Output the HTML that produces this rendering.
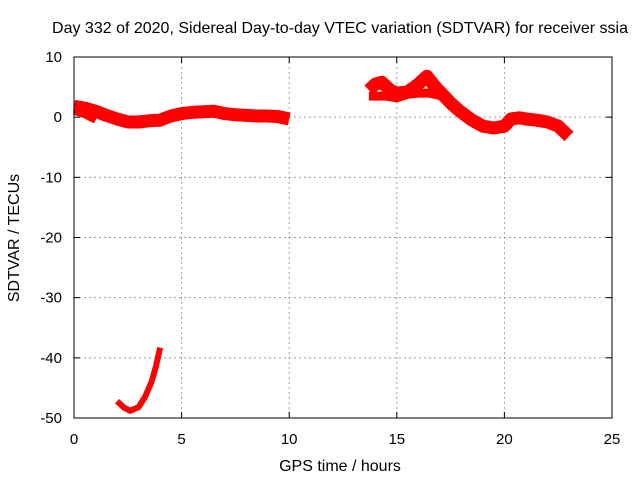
<!DOCTYPE html>
<html><head><meta charset="utf-8"><style>
body{margin:0;background:#fff;}
svg{display:block;font-family:"Liberation Sans",sans-serif;}
</style></head><body>
<svg id="chart" width="640" height="480" xmlns="http://www.w3.org/2000/svg">
<rect width="640" height="480" fill="#fff"/>
<text x="340" y="33" font-size="16" text-anchor="middle">Day 332 of 2020, Sidereal Day-to-day VTEC variation (SDTVAR) for receiver ssia</text>
<text x="340" y="471" font-size="16" text-anchor="middle">GPS time / hours</text>
<text x="19" y="238" font-size="16" text-anchor="middle" transform="rotate(-90 19 238)">SDTVAR / TECUs</text>
<g id="grid"></g>
<g id="series"></g>
<rect x="74" y="57" width="538" height="361" fill="none" stroke="#000" stroke-width="1"/>
<g id="ticks"></g>
</svg>
<script>
const xTicks=[0,5,10,15,20,25];
const yTicks=[10,0,-10,-20,-30,-40,-50];
const segAx=[0,0.5,1,1.5,2,2.5,3,3.5,4,4.5,5,5.5,6,6.5,7,7.5,8,8.5,9,9.5,10];
const segAy=[1.8,1.5,1,0.3,-0.3,-0.8,-0.8,-0.6,-0.5,0.2,0.6,0.8,0.9,1.0,0.6,0.4,0.3,0.2,0.2,0.1,-0.3];
const segA2x=[0,0.5,1];
const segA2y=[1,0.4,-0.5];
const segBx=[13.7,14,14.3,14.7,15,15.5,16,16.4,16.8,17.2,17.6,18,18.5,19,19.5,20,20.3,20.7,21,21.5,22,22.5,23];
const segBy=[4.5,5.5,5.8,4.5,4,4.2,5.5,6.8,5,3.5,2,0.8,-0.5,-1.5,-1.8,-1.5,-0.3,-0.1,-0.3,-0.5,-0.8,-1.5,-3.2];
const segB2x=[13.7,14.5,15,15.5,16,16.5,17];
const segB2y=[3.5,3.5,3.2,3.8,4,4,3.6];
const segCx=[2,2.3,2.6,3,3.3,3.6,3.8,4];
const segCy=[-47.2,-48.2,-48.8,-48.2,-46.5,-44,-41.5,-38.3];

const X=v=>74+v*(538/25);
const Y=v=>57+(10-v)*(361/60);
const NS="http://www.w3.org/2000/svg";
const grid=document.getElementById('grid'),ticks=document.getElementById('ticks'),series=document.getElementById('series');
function mk(tag,attrs,parent){const e=document.createElementNS(NS,tag);for(const k in attrs)e.setAttribute(k,attrs[k]);parent.appendChild(e);return e;}
xTicks.forEach(t=>{
  if(t>0&&t<25){const g=mk('line',{x1:X(t),x2:X(t),y1:57,y2:418,stroke:'#a0a0a0','stroke-dasharray':'2,3'},grid);
  
  }
  mk('line',{x1:X(t),x2:X(t),y1:418,y2:412,stroke:'#000'},ticks);
  mk('line',{x1:X(t),x2:X(t),y1:57,y2:63,stroke:'#000'},ticks);
  const l=mk('text',{x:X(t),y:444,'font-size':15,'text-anchor':'middle'},ticks);l.textContent=t;
  
  
});
yTicks.forEach(t=>{
  if(t<10&&t>-50){const g=mk('line',{x1:74,x2:612,y1:Y(t),y2:Y(t),stroke:'#a0a0a0','stroke-dasharray':'2,3'},grid);
  
  }
  mk('line',{x1:74,x2:80,y1:Y(t),y2:Y(t),stroke:'#000'},ticks);
  mk('line',{x1:612,x2:606,y1:Y(t),y2:Y(t),stroke:'#000'},ticks);
  const l=mk('text',{x:62,y:Y(t)+5,'font-size':15,'text-anchor':'end'},ticks);l.textContent=t;
  
  
});
function line(xs,ys,w,name){
  const pts=xs.map((x,i)=>X(x).toFixed(1)+','+Y(ys[i]).toFixed(1)).join(' ');
  const p=mk('polyline',{points:pts,fill:'none',stroke:'#ff0000','stroke-width':w,'stroke-linejoin':'round','stroke-linecap':'butt'},series);
  
  
}
line(segAx,segAy,13,'sdtvar-series-a');
line(segA2x,segA2y,7,'sdtvar-series-a-branch');
line(segBx,segBy,13,'sdtvar-series-b');
line(segB2x,segB2y,9,'sdtvar-series-b-branch');
line(segCx,segCy,6,'sdtvar-series-c');
</script>
</body></html>
